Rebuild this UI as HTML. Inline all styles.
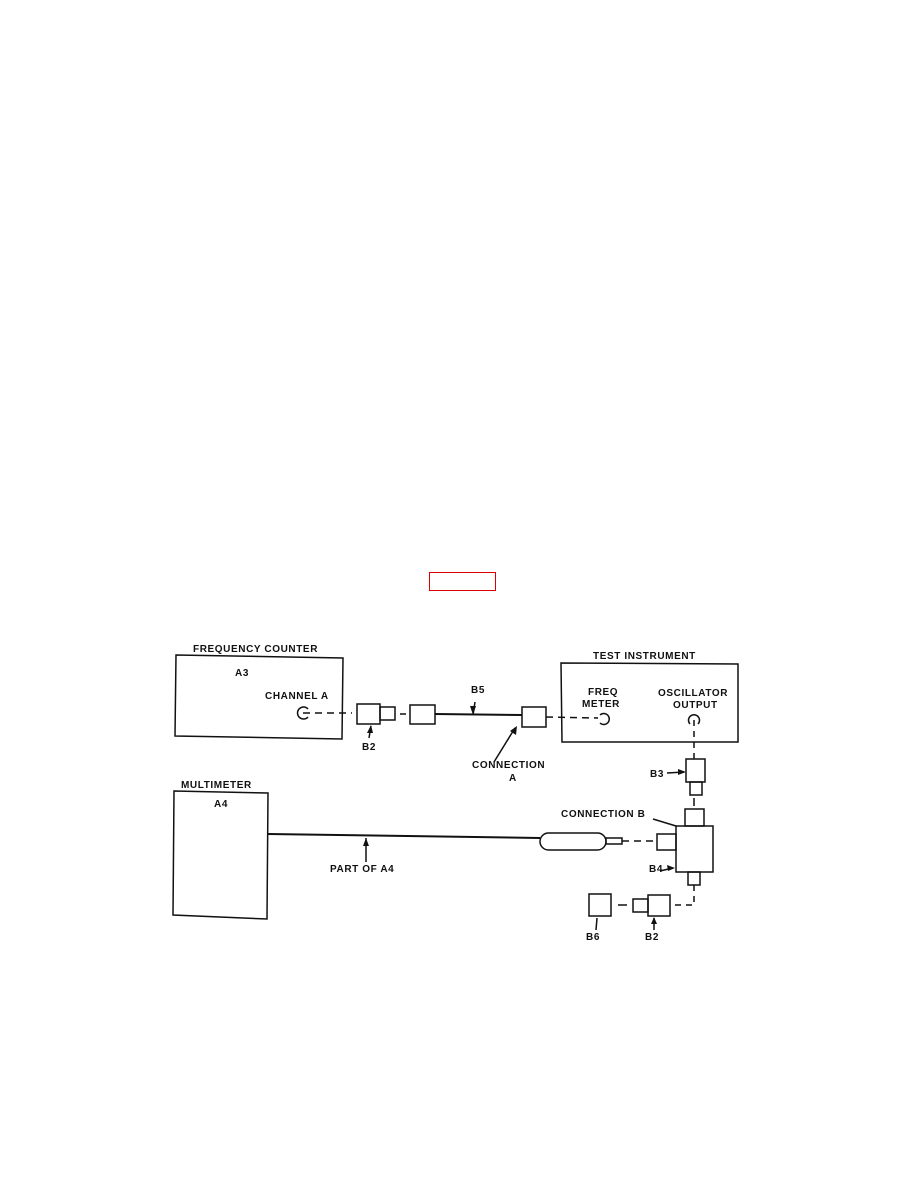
<!DOCTYPE html>
<html><head><meta charset="utf-8"><style>
html,body{margin:0;padding:0;background:#fff;}
svg{display:block;}
text{font-family:"Liberation Sans",sans-serif;font-weight:bold;font-size:10px;fill:#111;letter-spacing:0.6px;}
</style></head><body>
<svg width="918" height="1188" viewBox="0 0 918 1188" xmlns="http://www.w3.org/2000/svg">
<rect x="429.5" y="572.5" width="66" height="18" fill="none" stroke="#d00" stroke-width="1"/>
<g stroke="#111" stroke-width="1.5" fill="none">
<!-- frequency counter -->
<polygon points="176,655 343,658 342,739 175,736"/>
<path d="M308,709 A6,6 0 1 0 308,717"/>
<line x1="303" y1="713" x2="352" y2="713" stroke-dasharray="7,5"/>
<rect x="357" y="704" width="23" height="20"/>
<rect x="380" y="707" width="15" height="13"/>
<line x1="400" y1="714" x2="406" y2="714"/>
<rect x="410" y="705" width="25" height="19"/>
<line x1="435" y1="714" x2="522" y2="715" stroke-width="2"/>
<rect x="522" y="707" width="24" height="20"/>
<line x1="546" y1="717" x2="598" y2="718" stroke-dasharray="7,5"/>
<path d="M600,715 A5.5,5.5 0 1 1 600,723"/>
<line x1="475" y1="702" x2="473" y2="715"/>
<line x1="515" y1="728" x2="494" y2="762"/>
<line x1="371" y1="726" x2="369" y2="738"/>
<!-- test instrument -->
<polygon points="561,663 738,664 738,742 562,742"/>
<path d="M690,724 A5.5,5.5 0 1 1 698,724"/>
<line x1="694" y1="720" x2="694" y2="759" stroke-dasharray="6,5"/>
<rect x="686" y="759" width="19" height="23"/>
<rect x="690" y="782" width="12" height="13"/>
<line x1="694" y1="798" x2="694" y2="806"/>
<line x1="667" y1="773" x2="684" y2="772"/>
<!-- B4 -->
<rect x="685" y="809" width="19" height="17"/>
<rect x="676" y="826" width="37" height="46"/>
<rect x="657" y="834" width="19" height="16"/>
<rect x="688" y="872" width="12" height="13"/>
<polyline points="694,885 694,905 672,905" stroke-dasharray="6,5"/>
<line x1="653" y1="819" x2="676" y2="826"/>
<line x1="660" y1="871" x2="673" y2="868"/>
<!-- B2 lower -->
<rect x="648" y="895" width="22" height="21"/>
<rect x="633" y="899" width="15" height="13"/>
<line x1="618" y1="905" x2="627" y2="905"/>
<rect x="589" y="894" width="22" height="22"/>
<line x1="654" y1="918" x2="654" y2="930"/>
<line x1="597" y1="918" x2="596" y2="930"/>
<!-- multimeter -->
<polygon points="174,791 268,793 267,919 173,915"/>
<line x1="268" y1="834" x2="540" y2="838" stroke-width="2"/>
<rect x="540" y="833" width="66" height="17" rx="8.5"/>
<rect x="606" y="838" width="16" height="6"/>
<line x1="622" y1="841" x2="655" y2="841" stroke-dasharray="7,5"/>
<line x1="366" y1="838" x2="366" y2="862"/>
</g>
<g fill="#111">
<polygon points="473,715 470,706 476,706"/>
<polygon points="517,726 510,731 516,735"/>
<polygon points="371,725 367,733 373,733"/>
<polygon points="686,772 678,769 678,775"/>
<polygon points="366,838 363,846 369,846"/>
<polygon points="675,868 667,865 668,871"/>
<polygon points="654,917 651,924 657,924"/>
</g>
<text x="193" y="652">FREQUENCY  COUNTER</text>
<text x="235" y="676">A3</text>
<text x="265" y="699">CHANNEL  A</text>
<text x="471" y="693">B5</text>
<text x="362" y="750">B2</text>
<text x="472" y="768">CONNECTION</text>
<text x="509" y="781">A</text>
<text x="593" y="659">TEST  INSTRUMENT</text>
<text x="588" y="695">FREQ</text>
<text x="582" y="707">METER</text>
<text x="658" y="696">OSCILLATOR</text>
<text x="673" y="708">OUTPUT</text>
<text x="650" y="777">B3</text>
<text x="561" y="817">CONNECTION  B</text>
<text x="649" y="872">B4</text>
<text x="181" y="788">MULTIMETER</text>
<text x="214" y="807">A4</text>
<text x="330" y="872">PART  OF  A4</text>
<text x="586" y="940">B6</text>
<text x="645" y="940">B2</text>
</svg>
</body></html>
